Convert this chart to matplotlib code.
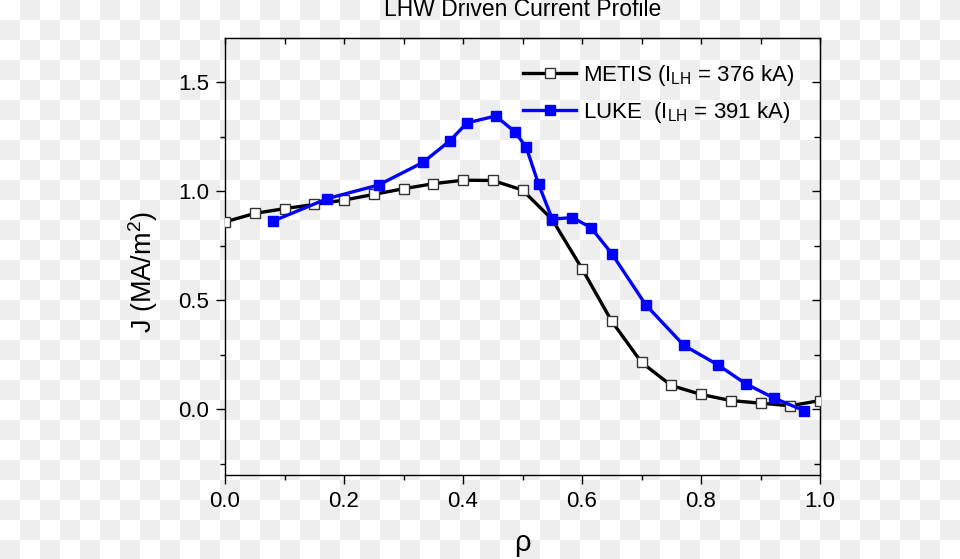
import numpy as np
import matplotlib.pyplot as plt
from matplotlib.ticker import MultipleLocator

plt.rcParams['font.family'] = ['Liberation Sans', 'DejaVu Sans']

# METIS profile (open squares)
rho_metis = [0.0, 0.05, 0.10, 0.15, 0.20, 0.25, 0.30, 0.35, 0.40, 0.45, 0.50,
             0.55, 0.60, 0.65, 0.70, 0.75, 0.80, 0.85, 0.90, 0.95, 1.00]
j_metis = [0.859, 0.898, 0.920, 0.939, 0.959, 0.985, 1.011, 1.034, 1.050, 1.049, 1.005,
           0.87, 0.645, 0.404, 0.216, 0.11, 0.069, 0.041, 0.029, 0.017, 0.041]

# LUKE profile (filled squares)
rho_luke = [0.080, 0.172, 0.258, 0.333, 0.378, 0.407, 0.455, 0.487, 0.506, 0.527,
            0.550, 0.584, 0.615, 0.650, 0.707, 0.771, 0.828, 0.875, 0.923, 0.973]
j_luke = [0.862, 0.966, 1.028, 1.132, 1.231, 1.313, 1.344, 1.272, 1.203, 1.032,
          0.872, 0.879, 0.833, 0.714, 0.480, 0.294, 0.205, 0.118, 0.052, -0.005]

label_metis = 'METIS (I$\\mathregular{_{LH}}$ = 376 kA)'
label_luke = 'LUKE  (I$\\mathregular{_{LH}}$ = 391 kA)'

fig = plt.figure(figsize=(9.6, 5.59), dpi=100)

# checkerboard backdrop (transparent png look)
bg = fig.add_axes([0, 0, 1, 1], zorder=-10)
ny, nx = 559 // 20 + 1, 960 // 20 + 1
yy, xx = np.mgrid[0:ny, 0:nx]
board = ((xx + yy) % 2).astype(float)
bg.imshow(board, cmap=plt.matplotlib.colors.ListedColormap(['#ffffff', '#eeeeee']),
          extent=[0, nx * 20, ny * 20, 0], interpolation='nearest', aspect='auto')
bg.set_xlim(0, 960)
bg.set_ylim(559, 0)
bg.axis('off')

ax = fig.add_axes([225 / 960, 1 - 475 / 559, 595 / 960, 436.7 / 559])
ax.set_facecolor('none')

ax.plot(rho_metis, j_metis, color='black', lw=2.4, marker='s', ms=7.5,
        mfc='white', mec='#333333', mew=1.0, label=label_metis, zorder=3)
ax.plot(rho_luke, j_luke, color='#0000ff', lw=2.4, marker='s', ms=7.5,
        mfc='#0000ff', mec='#0000ff', label=label_luke, zorder=4)

ax.set_xlim(0, 1.0)
ax.set_ylim(-0.3, 1.7)
ax.xaxis.set_major_locator(MultipleLocator(0.2))
ax.xaxis.set_minor_locator(MultipleLocator(0.1))
ax.yaxis.set_major_locator(MultipleLocator(0.5))
ax.yaxis.set_minor_locator(MultipleLocator(0.25))
ax.xaxis.set_major_formatter(lambda v, p: f'{v:.1f}')
ax.yaxis.set_major_formatter(lambda v, p: f'{v:.1f}')
ax.tick_params(which='major', direction='out', length=6.5, width=1.0, labelsize=16, pad=5)
ax.tick_params(which='minor', direction='out', length=3.6, width=1.0)
for s in ax.spines.values():
    s.set_linewidth(1.0)

# top and right: inward ticks, no labels
top = ax.secondary_xaxis('top')
top.xaxis.set_major_locator(MultipleLocator(0.1))
top.tick_params(direction='in', length=4, width=1.0, labeltop=False)
right = ax.secondary_yaxis('right')
right.yaxis.set_major_locator(MultipleLocator(0.5))
right.yaxis.set_minor_locator(MultipleLocator(0.25))
right.tick_params(which='major', direction='in', length=6, width=1.0, labelright=False)
right.tick_params(which='minor', direction='in', length=4, width=1.0)

ax.set_xlabel('ρ', fontsize=21, labelpad=12)
ax.set_ylabel('J (MA/m$\\mathregular{^2}$)', fontsize=19.5)
ax.yaxis.set_label_coords(-0.109, 0.465)
ax.set_title('LHW Driven Current Profile', fontsize=16.5, pad=16)

ax.legend(loc='upper right', frameon=False, fontsize=16, handlelength=2.4,
          handletextpad=0.3, labelspacing=0.55, borderaxespad=0.2,
          bbox_to_anchor=(0.979, 0.975))

fig.savefig('out.png', dpi=100)
